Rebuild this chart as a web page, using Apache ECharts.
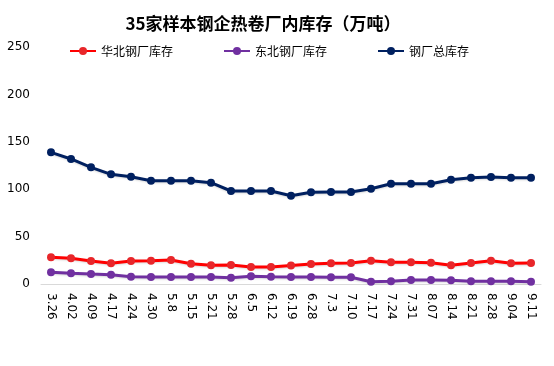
<!DOCTYPE html>
<html><head><meta charset="utf-8">
<script src="https://cdn.jsdelivr.net/npm/echarts@6/dist/echarts.min.js"></script>
<style>html,body{margin:0;padding:0;background:#fff}#c{width:554px;height:366px}</style>
</head><body><div id="c"></div>
<script>
var categories = ['3.26','4.02','4.09','4.17','4.24','4.30','5.8','5.15','5.21','5.28','6.5','6.12','6.19','6.28','7.3','7.10','7.17','7.24','7.31','8.07','8.14','8.21','8.28','9.04','9.11'];
var huabei = [28.2,27.1,24.3,21.8,24.3,24.6,25.3,21.4,19.7,20.0,17.9,17.9,19.5,21.1,21.8,22.2,24.6,22.9,22.9,22.5,19.7,22.2,24.6,21.8,22.2];
var dongbei = [12.3,11.3,10.5,9.8,7.7,7.4,7.4,7.4,7.4,6.6,8.1,7.7,7.4,7.4,7.1,7.1,2.4,2.8,4.2,4.2,3.9,2.8,2.8,2.8,2.4];
var total = [138.9,131.9,123.1,115.7,113.2,109.0,109.0,109.0,106.9,98.1,98.1,98.1,93.1,96.7,97.0,97.0,100.5,105.8,105.8,105.8,110.0,112.1,112.9,112.1,112.1];
var yTicks = [0,50,100,150,200,250];
var names = ['华北钢厂库存','东北钢厂库存','钢厂总库存'];
var colors = ['#FF0000','#7030A0','#002060'];
var markerColors = ['#E8262A','#7030A0','#002060'];
var chart = echarts.init(document.getElementById('c'));
function mk(i, data){
  return {name:names[i], type:'line', data:data, symbol:'circle', symbolSize:8,
    lineStyle:{color:colors[i], width:3, shadowColor:'rgba(0,0,0,0.15)', shadowBlur:2, shadowOffsetY:1},
    itemStyle:{color:markerColors[i]}, emphasis:{disabled:true}, animation:false};
}
chart.setOption({
  animation:false,
  title:{text:'35家样本钢企热卷厂内库存（万吨）', left:258, textAlign:'center', top:10,
    textStyle:{fontFamily:'Noto Sans CJK SC', fontWeight:'bold', fontSize:17, color:'#000'}},
  legend:{left:64, top:40, itemWidth:26, itemHeight:10, itemGap:50,
    textStyle:{fontFamily:'Noto Sans CJK SC', fontSize:12, color:'#000'}, data:names},
  grid:{left:41, right:13, top:47, bottom:82, containLabel:false},
  xAxis:{type:'category', data:categories, boundaryGap:true,
    axisLine:{lineStyle:{color:'#D9D9D9', width:1}}, axisTick:{show:false},
    axisLabel:{rotate:-90, interval:0, margin:9, fontFamily:'DejaVu Sans', fontSize:12, color:'#000'}},
  yAxis:{type:'value', min:yTicks[0], max:yTicks[yTicks.length-1], interval:50,
    axisLine:{show:false}, axisTick:{show:false}, splitLine:{show:false},
    axisLabel:{margin:11, fontFamily:'DejaVu Sans', fontSize:12, color:'#000'}},
  series:[mk(0,huabei), mk(1,dongbei), mk(2,total)]
});
</script></body></html>
